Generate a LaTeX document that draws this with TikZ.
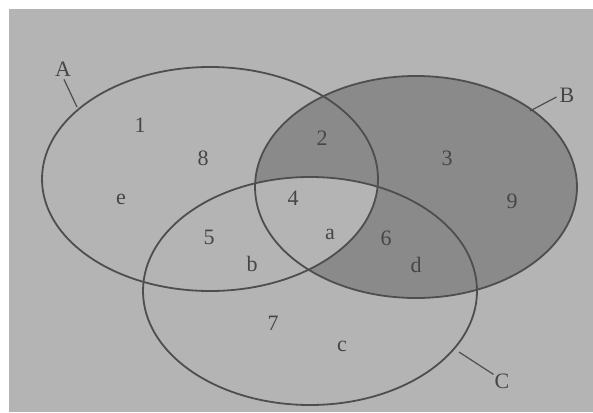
\documentclass[tikz,border=0pt]{standalone}
\usepackage{fontspec}
\setmainfont{Liberation Serif}
\definecolor{bgc}{RGB}{180,180,180}
\definecolor{darkc}{RGB}{138,138,138}
\definecolor{linec}{RGB}{78,78,78}
\definecolor{textc}{RGB}{70,70,70}
\begin{document}
\begin{tikzpicture}[x=1pt,y=-1pt,
  ring/.style={draw=linec,line width=1.8pt},
  lbl/.style={text=textc,font=\fontsize{22}{22}\selectfont,inner sep=0pt},
  tick/.style={draw=linec,line width=1.2pt}]
\useasboundingbox (0,0) rectangle (593,412);
\fill[white] (0,0) rectangle (593,412);
\fill[bgc] (9,9) rectangle (593,412);
% shading: B minus (A and C)
\fill[darkc] (416,187) ellipse [x radius=161pt, y radius=111pt];
\begin{scope}
  \clip (210,179) ellipse [x radius=168pt, y radius=112pt];
  \clip (310,291) ellipse [x radius=167pt, y radius=114pt];
  \fill[bgc] (416,187) ellipse [x radius=161pt, y radius=111pt];
\end{scope}
% circles
\draw[ring] (210,179) ellipse [x radius=168pt, y radius=112pt];
\draw[ring] (416,187) ellipse [x radius=161pt, y radius=111pt];
\draw[ring] (310,291) ellipse [x radius=167pt, y radius=114pt];
% set labels
\node[lbl] (A) at (63,69) {A};
\node[lbl] (B) at (567,95) {B};
\node[lbl] (C) at (502,381) {C};
\coordinate (Ae) at (77,107);
\coordinate (Be) at (530,111);
\coordinate (Ce) at (459,352);
\draw[tick] (A.south) ++(1,3) -- (Ae);
\draw[tick] (B.west) ++(-3,2) -- (Be);
\draw[tick] (C.north west) ++(-1,1) -- (Ce);
% elements
\node[lbl] (n1) at (140,125) {1};
\node[lbl] (n8) at (203,158) {8};
\node[lbl] (ne) at (121,199) {e};
\node[lbl] (n2) at (322,138) {2};
\node[lbl] (n3) at (447,158) {3};
\node[lbl] (n9) at (512,201) {9};
\node[lbl] (n4) at (293,198) {4};
\node[lbl] (n5) at (209,237) {5};
\node[lbl] (na) at (330,234) {a};
\node[lbl] (n6) at (386,238) {6};
\node[lbl] (nb) at (252,264) {b};
\node[lbl] (nd) at (416,265) {d};
\node[lbl] (n7) at (273,323) {7};
\node[lbl] (nc) at (342,346) {c};
\end{tikzpicture}
\end{document}
